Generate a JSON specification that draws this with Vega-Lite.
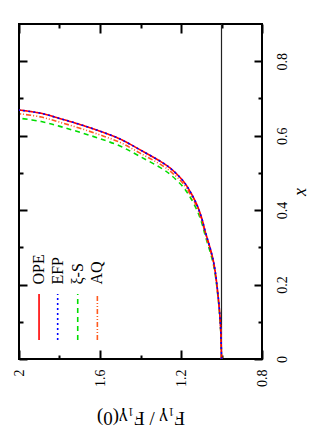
{
  "$schema": "https://vega.github.io/schema/vega-lite/v6.json",
  "width": 243,
  "height": 335,
  "padding": {"left": 12, "top": 23, "right": 0, "bottom": 0},
  "autosize": {"type": "pad"},
  "background": "white",
  "config": {
    "view": {"stroke": "black", "strokeWidth": 2},
    "axis": {
      "domain": false, "grid": false,
      "labelFont": "Liberation Serif", "titleFont": "Liberation Serif",
      "labelFontSize": 14, "titleFontSize": 19,
      "labelColor": "black", "titleColor": "black", "tickColor": "black",
      "titleFontWeight": "normal", "tickWidth": 2,
      "labelFlush": false, "labelOverlap": false, "labelBound": false
    },
    "line": {"strokeWidth": 1.6, "clip": true, "interpolate": "catmull-rom"}
  },
  "datasets": {
    "curves": [
      {"series": "ξ-S", "x": 0, "F": 1.0},
      {"series": "ξ-S", "x": 0.077, "F": 1.004},
      {"series": "ξ-S", "x": 0.160, "F": 1.016},
      {"series": "ξ-S", "x": 0.254, "F": 1.040},
      {"series": "ξ-S", "x": 0.333, "F": 1.081},
      {"series": "ξ-S", "x": 0.367, "F": 1.098},
      {"series": "ξ-S", "x": 0.401, "F": 1.122},
      {"series": "ξ-S", "x": 0.436, "F": 1.156},
      {"series": "ξ-S", "x": 0.462, "F": 1.189},
      {"series": "ξ-S", "x": 0.492, "F": 1.245},
      {"series": "ξ-S", "x": 0.510, "F": 1.290},
      {"series": "ξ-S", "x": 0.544, "F": 1.402},
      {"series": "ξ-S", "x": 0.572, "F": 1.501},
      {"series": "ξ-S", "x": 0.592, "F": 1.600},
      {"series": "ξ-S", "x": 0.609, "F": 1.699},
      {"series": "ξ-S", "x": 0.625, "F": 1.798},
      {"series": "ξ-S", "x": 0.638, "F": 1.890},
      {"series": "ξ-S", "x": 0.647, "F": 2.0},
      {"series": "AQ", "x": 0, "F": 1.0},
      {"series": "AQ", "x": 0.079, "F": 1.004},
      {"series": "AQ", "x": 0.162, "F": 1.016},
      {"series": "AQ", "x": 0.259, "F": 1.040},
      {"series": "AQ", "x": 0.339, "F": 1.081},
      {"series": "AQ", "x": 0.373, "F": 1.098},
      {"series": "AQ", "x": 0.409, "F": 1.122},
      {"series": "AQ", "x": 0.444, "F": 1.156},
      {"series": "AQ", "x": 0.471, "F": 1.189},
      {"series": "AQ", "x": 0.501, "F": 1.245},
      {"series": "AQ", "x": 0.519, "F": 1.290},
      {"series": "AQ", "x": 0.553, "F": 1.402},
      {"series": "AQ", "x": 0.582, "F": 1.501},
      {"series": "AQ", "x": 0.602, "F": 1.600},
      {"series": "AQ", "x": 0.620, "F": 1.699},
      {"series": "AQ", "x": 0.636, "F": 1.798},
      {"series": "AQ", "x": 0.650, "F": 1.890},
      {"series": "AQ", "x": 0.659, "F": 2.0},
      {"series": "OPE", "x": 0, "F": 1.0},
      {"series": "OPE", "x": 0.080, "F": 1.004},
      {"series": "OPE", "x": 0.165, "F": 1.016},
      {"series": "OPE", "x": 0.263, "F": 1.040},
      {"series": "OPE", "x": 0.344, "F": 1.081},
      {"series": "OPE", "x": 0.379, "F": 1.098},
      {"series": "OPE", "x": 0.415, "F": 1.122},
      {"series": "OPE", "x": 0.451, "F": 1.156},
      {"series": "OPE", "x": 0.478, "F": 1.189},
      {"series": "OPE", "x": 0.509, "F": 1.245},
      {"series": "OPE", "x": 0.527, "F": 1.290},
      {"series": "OPE", "x": 0.562, "F": 1.402},
      {"series": "OPE", "x": 0.591, "F": 1.501},
      {"series": "OPE", "x": 0.612, "F": 1.600},
      {"series": "OPE", "x": 0.630, "F": 1.699},
      {"series": "OPE", "x": 0.646, "F": 1.798},
      {"series": "OPE", "x": 0.660, "F": 1.890},
      {"series": "OPE", "x": 0.669, "F": 2.0},
      {"series": "EFP", "x": 0, "F": 1.0},
      {"series": "EFP", "x": 0.080, "F": 1.004},
      {"series": "EFP", "x": 0.165, "F": 1.016},
      {"series": "EFP", "x": 0.263, "F": 1.040},
      {"series": "EFP", "x": 0.344, "F": 1.081},
      {"series": "EFP", "x": 0.379, "F": 1.098},
      {"series": "EFP", "x": 0.415, "F": 1.122},
      {"series": "EFP", "x": 0.451, "F": 1.156},
      {"series": "EFP", "x": 0.478, "F": 1.189},
      {"series": "EFP", "x": 0.509, "F": 1.245},
      {"series": "EFP", "x": 0.527, "F": 1.290},
      {"series": "EFP", "x": 0.562, "F": 1.402},
      {"series": "EFP", "x": 0.591, "F": 1.501},
      {"series": "EFP", "x": 0.612, "F": 1.600},
      {"series": "EFP", "x": 0.630, "F": 1.699},
      {"series": "EFP", "x": 0.646, "F": 1.798},
      {"series": "EFP", "x": 0.660, "F": 1.890},
      {"series": "EFP", "x": 0.669, "F": 2.0}
    ],
    "reference": [{"F": 1}],
    "legend": [{"series": "OPE"}, {"series": "EFP"}, {"series": "ξ-S"}, {"series": "AQ"}]
  },
  "layer": [
    {
      "data": {"name": "reference"},
      "mark": {"type": "rule", "color": "#222222", "strokeWidth": 1.2},
      "encoding": {"x": {"field": "F", "type": "quantitative", "axis": null,
        "scale": {"domain": [0.8, 2], "reverse": true, "nice": false, "zero": false}}}
    },
    {
      "data": {"name": "curves"},
      "transform": [{"filter": "datum.series == 'ξ-S'"}],
      "mark": {"type": "line"},
      "encoding": {
        "x": {"field": "F", "type": "quantitative",
          "axis": {"orient": "top", "values": [0.8, 1.2, 1.6, 2.0], "labels": false, "title": null, "tickSize": 9, "offset": -9}},
        "y": {"field": "x", "type": "quantitative",
          "scale": {"domain": [0, 0.9], "nice": false, "zero": false},
          "axis": {"orient": "left", "values": [0, 0.2, 0.4, 0.6, 0.8], "labels": false, "title": null, "tickSize": 8, "offset": -8}},
        "order": {"field": "x", "type": "quantitative"},
        "color": {"field": "series", "type": "nominal", "legend": null,
          "scale": {"domain": ["OPE", "EFP", "ξ-S", "AQ"], "range": ["#ff0000", "#0000ff", "#00dd00", "#ff5a1e"]}},
        "strokeDash": {"field": "series", "type": "nominal", "legend": null,
          "scale": {"domain": ["OPE", "EFP", "ξ-S", "AQ"], "range": [[1, 0], [2, 3], [5, 4], [5, 2, 1, 2, 1, 2]]}}
      }
    },
    {
      "data": {"name": "curves"},
      "transform": [{"filter": "datum.series == 'AQ'"}],
      "mark": {"type": "line"},
      "encoding": {
        "x": {"field": "F", "type": "quantitative",
          "axis": {"orient": "top", "values": [1.0, 1.4, 1.8], "labels": false, "title": null, "tickSize": 4, "offset": -4}},
        "y": {"field": "x", "type": "quantitative",
          "axis": {"orient": "left", "values": [0.1, 0.3, 0.5, 0.7], "labels": false, "title": null, "tickSize": 4, "offset": -4}},
        "order": {"field": "x", "type": "quantitative"},
        "color": {"field": "series", "type": "nominal", "legend": null},
        "strokeDash": {"field": "series", "type": "nominal", "legend": null}
      }
    },
    {
      "data": {"name": "curves"},
      "transform": [{"filter": "datum.series == 'OPE'"}],
      "mark": {"type": "line"},
      "encoding": {
        "x": {"field": "F", "type": "quantitative",
          "axis": {"orient": "bottom", "values": [1.0, 1.4, 1.8], "labels": false, "title": null, "tickSize": 4, "offset": -4}},
        "y": {"field": "x", "type": "quantitative",
          "axis": {"orient": "right", "values": [0.1, 0.3, 0.5, 0.7], "labels": false, "title": null, "tickSize": 4, "offset": -4}},
        "order": {"field": "x", "type": "quantitative"},
        "color": {"field": "series", "type": "nominal", "legend": null},
        "strokeDash": {"field": "series", "type": "nominal", "legend": null}
      }
    },
    {
      "data": {"name": "curves"},
      "transform": [{"filter": "datum.series == 'EFP'"}],
      "mark": {"type": "line"},
      "encoding": {
        "x": {"field": "F", "type": "quantitative",
          "axis": {"orient": "bottom", "values": [0.8, 1.2, 1.6, 2.0], "format": "~g", "tickSize": 9, "offset": -9,
            "labelAngle": -90, "labelAlign": "right", "labelBaseline": "middle", "labelPadding": 10,
            "title": "F₁γ / F₁γ(0)", "titleAngle": 180, "titleBaseline": "bottom", "titlePadding": 21}},
        "y": {"field": "x", "type": "quantitative",
          "axis": {"orient": "right", "values": [0, 0.2, 0.4, 0.6, 0.8], "format": "~g", "tickSize": 8, "offset": -8,
            "labelAngle": -90, "labelAlign": "center", "labelBaseline": "top", "labelPadding": 13,
            "title": "x", "titleFontStyle": "italic", "titleFontSize": 18, "titleAngle": -90, "titleBaseline": "top", "titlePadding": 2}},
        "order": {"field": "x", "type": "quantitative"},
        "color": {"field": "series", "type": "nominal", "legend": null},
        "strokeDash": {"field": "series", "type": "nominal", "legend": null}
      }
    },
    {
      "data": {"name": "legend"},
      "transform": [{"filter": "datum.series == 'OPE'"}],
      "layer": [
        {"mark": {"type": "rule", "strokeWidth": 1.6},
         "encoding": {"x": {"datum": 1.901, "type": "quantitative", "axis": null}, "y": {"datum": 0.051, "type": "quantitative", "axis": null}, "y2": {"datum": 0.1745},
           "color": {"field": "series", "type": "nominal", "legend": null}, "strokeDash": {"field": "series", "type": "nominal", "legend": null}}},
        {"mark": {"type": "text", "angle": -90, "align": "left", "baseline": "middle", "font": "Liberation Serif", "fontSize": 16, "color": "black"},
         "encoding": {"x": {"datum": 1.901, "type": "quantitative", "axis": null}, "y": {"datum": 0.2, "type": "quantitative", "axis": null}, "text": {"field": "series"}}}
      ]
    },
    {
      "data": {"name": "legend"},
      "transform": [{"filter": "datum.series == 'EFP'"}],
      "layer": [
        {"mark": {"type": "rule", "strokeWidth": 1.6},
         "encoding": {"x": {"datum": 1.809, "type": "quantitative", "axis": null}, "y": {"datum": 0.051, "type": "quantitative", "axis": null}, "y2": {"datum": 0.1745},
           "color": {"field": "series", "type": "nominal", "legend": null}, "strokeDash": {"field": "series", "type": "nominal", "legend": null}}},
        {"mark": {"type": "text", "angle": -90, "align": "left", "baseline": "middle", "font": "Liberation Serif", "fontSize": 16, "color": "black"},
         "encoding": {"x": {"datum": 1.809, "type": "quantitative", "axis": null}, "y": {"datum": 0.2, "type": "quantitative", "axis": null}, "text": {"field": "series"}}}
      ]
    },
    {
      "data": {"name": "legend"},
      "transform": [{"filter": "datum.series == 'ξ-S'"}],
      "layer": [
        {"mark": {"type": "rule", "strokeWidth": 1.6},
         "encoding": {"x": {"datum": 1.710, "type": "quantitative", "axis": null}, "y": {"datum": 0.051, "type": "quantitative", "axis": null}, "y2": {"datum": 0.1745},
           "color": {"field": "series", "type": "nominal", "legend": null}, "strokeDash": {"field": "series", "type": "nominal", "legend": null}}},
        {"mark": {"type": "text", "angle": -90, "align": "left", "baseline": "middle", "font": "Liberation Serif", "fontSize": 16, "color": "black"},
         "encoding": {"x": {"datum": 1.710, "type": "quantitative", "axis": null}, "y": {"datum": 0.2, "type": "quantitative", "axis": null}, "text": {"field": "series"}}}
      ]
    },
    {
      "data": {"name": "legend"},
      "transform": [{"filter": "datum.series == 'AQ'"}],
      "layer": [
        {"mark": {"type": "rule", "strokeWidth": 1.6},
         "encoding": {"x": {"datum": 1.613, "type": "quantitative", "axis": null}, "y": {"datum": 0.051, "type": "quantitative", "axis": null}, "y2": {"datum": 0.1745},
           "color": {"field": "series", "type": "nominal", "legend": null}, "strokeDash": {"field": "series", "type": "nominal", "legend": null}}},
        {"mark": {"type": "text", "angle": -90, "align": "left", "baseline": "middle", "font": "Liberation Serif", "fontSize": 16, "color": "black"},
         "encoding": {"x": {"datum": 1.613, "type": "quantitative", "axis": null}, "y": {"datum": 0.2, "type": "quantitative", "axis": null}, "text": {"field": "series"}}}
      ]
    }
  ],
  "resolve": {"axis": {"x": "independent", "y": "independent"}}
}
